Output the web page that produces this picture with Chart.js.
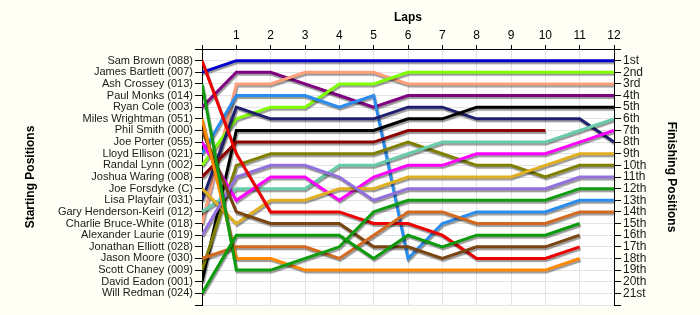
<!DOCTYPE html>
<html>
<head>
<meta charset="utf-8">
<script src="https://cdn.jsdelivr.net/npm/chart.js@4/dist/chart.umd.min.js"></script>
<style>
  html, body { margin: 0; padding: 0; background: #fffff5; }
  #wrap { width: 700px; height: 315px; }
</style>
</head>
<body>
<div id="wrap"><canvas id="lapChart" width="700" height="315"></canvas></div>
<script>
// Laps and axis labels
const laps = [0, 1, 2, 3, 4, 5, 6, 7, 8, 9, 10, 11, 12];
const startLabels = [
  'Sam Brown (088)', 'James Bartlett (007)', 'Ash Crossey (013)', 'Paul Monks (014)',
  'Ryan Cole (003)', 'Miles Wrightman (051)', 'Phil Smith (000)', 'Joe Porter (055)',
  'Lloyd Ellison (021)', 'Randal Lynn (002)', 'Joshua Waring (008)', 'Joe Forsdyke (C)',
  'Lisa Playfair (031)', 'Gary Henderson-Keirl (012)', 'Charlie Bruce-White (018)',
  'Alexander Laurie (019)', 'Jonathan Elliott (028)', 'Jason Moore (030)',
  'Scott Chaney (009)', 'David Eadon (001)', 'Will Redman (024)'
];
const finishLabels = [
  '1st', '2nd', '3rd', '4th', '5th', '6th', '7th', '8th', '9th', '10th', '11th',
  '12th', '13th', '14th', '15th', '16th', '17th', '18th', '19th', '20th', '21st'
];

// Position of each driver per lap (index = lap)
const samBrown        = [1, 9, 14, 14, 14, 15, 15, 16, 18, 18, 18, 17];
const jamesBartlett   = [2, 1, 1, 1, 1, 1, 1, 1, 1, 1, 1, 1, 1];
const ashCrossey      = [3, 19, 19, 18, 17, 14, 13, 13, 13, 13, 13, 12, 12];
const ryanCole        = [5, 2, 2, 3, 4, 5, 4, 4, 4, 4, 4, 4, 4];
const milesWrightman  = [6, 18, 18, 19, 19, 19, 19, 19, 19, 19, 19, 18];
const philSmith       = [7, 14, 15, 15, 15, 17, 17, 18, 17, 17, 17, 16];
const joePorter       = [8, 13, 11, 11, 13, 11, 10, 10, 9, 9, 9, 8, 7];
const lloydEllison    = [9, 4, 4, 4, 5, 4, 18, 15, 14, 14, 14, 13, 13];
const randalLynn      = [10, 6, 5, 5, 3, 3, 2, 2, 2, 2, 2, 2, 2];
const joshuaWaring    = [11, 8, 8, 8, 8, 8, 7, 7, 7, 7, 7];
const joeForsdyke     = [12, 15, 13, 13, 12, 12, 11, 11, 11, 11, 10, 9, 9];
const lisaPlayfair    = [13, 5, 6, 6, 6, 6, 5, 5, 6, 6, 6, 6, 8];
const garyHenderson   = [14, 12, 12, 12, 10, 10, 9, 8, 8, 8, 8, 7, 6];
const charlieBruce    = [15, 3, 3, 2, 2, 2, 3, 3, 3, 3, 3, 3, 3];
const alexanderLaurie = [16, 11, 10, 10, 11, 13, 12, 12, 12, 12, 12, 11, 11];
const jasonMoore      = [18, 17, 17, 17, 18, 16, 14, 14, 15, 15, 15, 14, 14];
const scottChaney     = [19, 10, 9, 9, 9, 9, 8, 9, 10, 10, 11, 10, 10];
const davidEadon      = [20, 7, 7, 7, 7, 7, 6, 6, 5, 5, 5, 5, 5];
const willRedman      = [21, 16, 16, 16, 16, 18, 16, 17, 16, 16, 16, 15];

const series = [
  { name: 'Will Redman', data: willRedman, color: '#0a9a0a' },
  { name: 'Ash Crossey', data: ashCrossey, color: '#119d11' },
  { name: 'Miles Wrightman', data: milesWrightman, color: '#ff8800' },
  { name: 'Jason Moore', data: jasonMoore, color: '#d2691e' },
  { name: 'Phil Smith', data: philSmith, color: '#7b4512' },
  { name: 'Sam Brown', data: samBrown, color: '#ee0000' },
  { name: 'Alexander Laurie', data: alexanderLaurie, color: '#9370db' },
  { name: 'Joe Forsdyke', data: joeForsdyke, color: '#e0b020' },
  { name: 'Joe Porter', data: joePorter, color: '#ff00ff' },
  { name: 'Gary Henderson-Keirl', data: garyHenderson, color: '#66ccaa' },
  { name: 'Scott Chaney', data: scottChaney, color: '#808000' },
  { name: 'Joshua Waring', data: joshuaWaring, color: '#8b0000' },
  { name: 'David Eadon', data: davidEadon, color: '#000000' },
  { name: 'Lisa Playfair', data: lisaPlayfair, color: '#1f1f70' },
  { name: 'Lloyd Ellison', data: lloydEllison, color: '#2b8cf0' },
  { name: 'Randal Lynn', data: randalLynn, color: '#80ff00' },
  { name: 'Charlie Bruce-White', data: charlieBruce, color: '#ffa07a' },
  { name: 'Ryan Cole', data: ryanCole, color: '#800080' },
  { name: 'James Bartlett', data: jamesBartlett, color: '#0000cc' }
];

// white plot area + soft shadow under the lines
const plotStyle = {
  id: 'plotStyle',
  beforeDraw(chart) {
    const { ctx, chartArea: a } = chart;
    ctx.save();
    ctx.fillStyle = '#ffffff';
    ctx.fillRect(a.left, a.top, a.right - a.left, a.bottom - a.top);
    ctx.restore();
  },
  beforeDatasetsDraw(chart) {
    const ctx = chart.ctx;
    ctx.save();
    ctx.shadowColor = 'rgba(0,0,0,0.4)';
    ctx.shadowOffsetX = 1;
    ctx.shadowOffsetY = 2;
    ctx.shadowBlur = 1;
  },
  afterDatasetsDraw(chart) {
    chart.ctx.restore();
  }
};

const font = { family: 'Arial, "Liberation Sans", sans-serif', size: 11 };
const titleFont = { family: 'Arial, "Liberation Sans", sans-serif', size: 12, weight: 'bold' };

new Chart(document.getElementById('lapChart'), {
  type: 'line',
  data: {
    datasets: series.map(s => ({
      label: s.name,
      data: s.data.map((p, i) => ({ x: laps[i], y: p })),
      borderColor: s.color,
      borderWidth: 3,
      pointRadius: 0,
      fill: false,
      tension: 0,
      yAxisID: 'y'
    }))
  },
  options: {
    responsive: false,
    animation: false,
    layout: { padding: { left: 0, right: 0, top: 0, bottom: 10 } },
    plugins: { legend: { display: false }, tooltip: { enabled: false } },
    scales: {
      x: {
        type: 'linear',
        position: 'top',
        min: 0,
        max: 12,
        afterFit: s => { s.height = 49; },
        title: { display: true, text: 'Laps', color: '#000', font: titleFont, padding: { top: 10, bottom: 0 } },
        ticks: {
          stepSize: 1,
          color: '#000',
          font: { family: font.family, size: 12 },
          padding: 2,
          callback: v => (v === 0 ? '' : v)
        },
        grid: { color: '#e4e4e4', tickColor: '#000', tickLength: 4 },
        border: { color: '#000', width: 1 }
      },
      y: {
        type: 'linear',
        position: 'left',
        reverse: true,
        min: 0,
        max: 22,
        afterFit: s => { s.width = 202; },
        title: { display: true, text: 'Starting Positions', color: '#000', font: titleFont, padding: { top: 23, bottom: 0 } },
        ticks: {
          stepSize: 1,
          autoSkip: false,
          color: '#1a1a1a',
          font: font,
          padding: 2,
          callback: v => startLabels[v - 1] || ''
        },
        grid: { color: '#e4e4e4', tickColor: '#000', tickLength: 7 },
        border: { color: '#000', width: 1 }
      },
      y2: {
        type: 'linear',
        position: 'right',
        reverse: true,
        min: 0,
        max: 22,
        afterFit: s => { s.width = 86; },
        title: { display: true, text: 'Finishing Positions', color: '#000', font: titleFont, padding: { top: 21, bottom: 0 } },
        ticks: {
          stepSize: 1,
          autoSkip: false,
          color: '#1a1a1a',
          font: { family: font.family, size: 12 },
          padding: 2,
          callback: v => finishLabels[v - 1] || ''
        },
        grid: { drawOnChartArea: false, tickColor: '#000', tickLength: 7 },
        border: { color: '#000', width: 1 }
      }
    }
  },
  plugins: [plotStyle]
});
</script>
</body>
</html>
